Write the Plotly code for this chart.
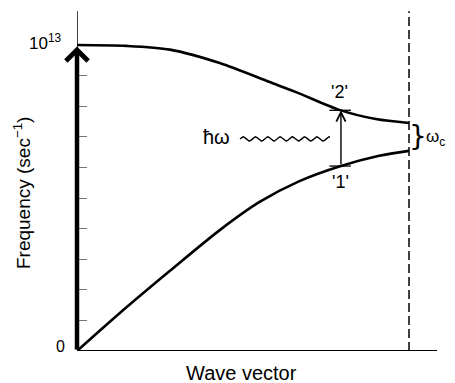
import numpy as np
import plotly.graph_objects as go

# ---- data (frequency in units of 10^13 s^-1, wave vector normalised to zone edge) ----
k_upper = [0.0, 0.15, 0.28, 0.43, 0.58, 0.66, 0.79, 0.90, 1.0]
f_upper = [1.0, 0.997, 0.985, 0.941, 0.879, 0.846, 0.788, 0.758, 0.745]
k_lower = [0.0, 0.13, 0.28, 0.43, 0.55, 0.67, 0.79, 0.91, 1.0]
f_lower = [0.0, 0.125, 0.262, 0.395, 0.487, 0.555, 0.603, 0.638, 0.654]
y_tick_vals = [0.1, 0.2, 0.3, 0.4, 0.5, 0.6, 0.7, 0.8, 0.9]
k_transition = 0.795
k_zone_edge = 1.0
photon_level = 0.693

FONT = "Liberation Sans"
fig = go.Figure()

fig.add_trace(go.Scatter(x=k_upper, y=f_upper, mode="lines",
                         line=dict(color="black", width=2.6, shape="spline", smoothing=0.8),
                         hoverinfo="skip", showlegend=False))
fig.add_trace(go.Scatter(x=k_lower, y=f_lower, mode="lines",
                         line=dict(color="black", width=2.6, shape="spline", smoothing=0.8),
                         hoverinfo="skip", showlegend=False))

# wavy photon line
wx = np.linspace(0.491, 0.762, 300)
wy = photon_level + 0.007 * np.sin(2 * np.pi * (wx - 0.491) / 0.037)
fig.add_trace(go.Scatter(x=wx, y=wy, mode="lines", line=dict(color="black", width=1.4),
                         hoverinfo="skip", showlegend=False))

f_lo_t = float(np.interp(k_transition, k_lower, f_lower))
f_up_t = float(np.interp(k_transition, k_upper, f_upper))

shapes = [
    dict(type="line", xref="x", yref="y", x0=0, x1=1.0843, y0=0, y1=0,
         line=dict(color="black", width=2)),
    dict(type="line", xref="x", yref="y", x0=0, x1=0, y0=0.98, y1=1.11,
         line=dict(color="black", width=1.5)),
    dict(type="line", xref="x", yref="y", x0=k_zone_edge, x1=k_zone_edge, y0=0, y1=1.11,
         line=dict(color="black", width=1.5, dash="9px,4px")),
    dict(type="line", xref="x", yref="y", x0=k_transition - 0.035, x1=k_transition + 0.03,
         y0=f_lo_t, y1=f_lo_t, line=dict(color="black", width=1.3)),
    dict(type="line", xref="x", yref="y", x0=k_transition - 0.035, x1=k_transition + 0.03,
         y0=f_up_t, y1=f_up_t, line=dict(color="black", width=1.3)),
]

ann = [
    dict(x=0, y=0.995, ax=0, ay=0, xref="x", yref="y", axref="x", ayref="y", text="",
         showarrow=True, arrowhead=4, arrowwidth=4.5, arrowsize=0.95, arrowcolor="black", standoff=0),
    dict(x=k_transition, y=f_up_t, ax=k_transition, ay=f_lo_t, xref="x", yref="y", axref="x", ayref="y",
         text="", showarrow=True, arrowhead=5, arrowwidth=1.4, arrowsize=1.3, arrowcolor="black", standoff=0),
    dict(x=0.768, y=photon_level, ax=0.755, ay=photon_level, xref="x", yref="y", axref="x", ayref="y",
         text="", showarrow=True, arrowhead=5, arrowwidth=1.3, arrowsize=1.3, arrowcolor="black", standoff=0),
    dict(x=-0.036, y=0.906, xref="paper", yref="paper", text="10<sup>13</sup>", showarrow=False,
         xanchor="right", yanchor="middle", font=dict(family=FONT, size=17, color="black")),
    dict(x=-0.028, y=0.012, xref="paper", yref="paper", text="0", showarrow=False,
         xanchor="right", yanchor="middle", font=dict(family=FONT, size=16, color="black")),
    dict(x=-0.153, y=0.463, xref="paper", yref="paper", text="Frequency (sec<sup>−1</sup>)",
         showarrow=False, textangle=-90, xanchor="center", yanchor="middle",
         font=dict(family=FONT, size=19, color="black")),
    dict(x=0.456, y=-0.065, xref="paper", yref="paper", text="Wave vector", showarrow=False,
         xanchor="center", yanchor="middle", font=dict(family=FONT, size=20, color="black")),
    dict(x=0.419, y=0.698, xref="x", yref="y", text="ħω", showarrow=False,
         font=dict(family=FONT, size=20, color="black")),
    dict(x=0.792, y=0.847, xref="x", yref="y", text="'2'", showarrow=False,
         font=dict(family=FONT, size=18, color="black")),
    dict(x=0.795, y=0.553, xref="x", yref="y", text="'1'", showarrow=False,
         font=dict(family=FONT, size=18, color="black")),
    dict(x=1.027, y=0.70, xref="x", yref="y", text="}", showarrow=False,
         font=dict(family="DejaVu Sans", size=28, color="black")),
    dict(x=1.046, y=0.696, xref="x", yref="y", text="ω<sub>c</sub>", showarrow=False, xanchor="left",
         font=dict(family=FONT, size=17, color="black")),
]

fig.update_layout(
    width=447, height=375,
    margin=dict(l=69, r=18, t=2, b=32),
    paper_bgcolor="white", plot_bgcolor="white",
    shapes=shapes, annotations=ann,
    xaxis=dict(range=[0, 1.0843], showgrid=False, zeroline=False, showline=False,
               showticklabels=False, ticks=""),
    yaxis=dict(range=[0, 1.1144], showgrid=False, zeroline=False, showline=False,
               tickvals=y_tick_vals, ticktext=[""] * len(y_tick_vals),
               ticks="inside", ticklen=10, tickwidth=1, tickcolor="#777"),
)

fig.write_html("out.html")
